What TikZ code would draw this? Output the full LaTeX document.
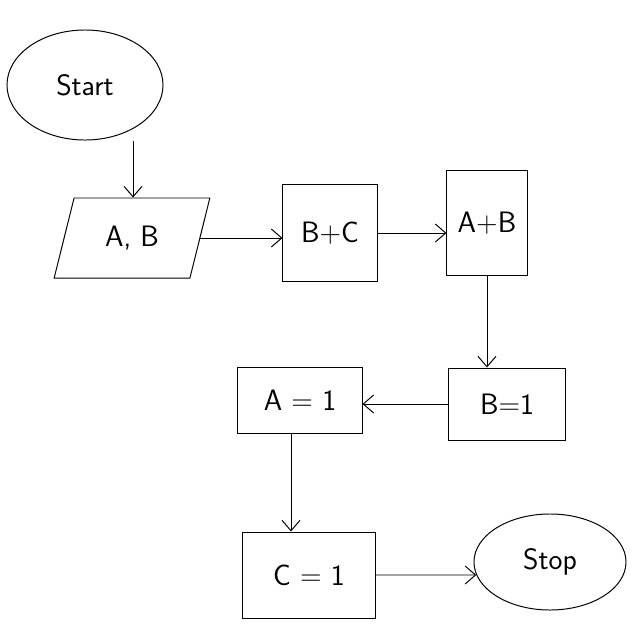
\documentclass[tikz,border=0pt]{standalone}
\usepackage{tikz}
\usetikzlibrary{arrows.meta,positioning,shapes.geometric}

\begin{document}
\begin{tikzpicture}[x=0.025cm, y=-0.025cm, font=\sffamily\fontsize{21}{25}\selectfont,
  term/.style={ellipse, draw=black, line width=0.7pt, inner sep=0pt},
  io/.style={trapezium, trapezium left angle=72, trapezium right angle=108, trapezium stretches=true, draw=black, line width=0.7pt, minimum width=3.9cm, minimum height=2cm},
  proc/.style={rectangle, draw=black, line width=0.7pt, inner sep=0pt},
  arr/.style={-{Straight Barb[length=2.6mm,width=4.5mm]}, line width=0.7pt, draw=black}]
\useasboundingbox (0,0) rectangle (640,640);
\node[term, minimum width=3.9cm, minimum height=2.75cm] (start) at (85,85) {Start};
\node[io] (ab) at (132,238) {A, B};
\node[proc, minimum width=2.35cm, minimum height=2.43cm] (bc) at (330,233) {B+C};
\node[proc, minimum width=2.0cm, minimum height=2.6cm] (apb) at (487,223) {A+B};
\node[proc, minimum width=2.9cm, minimum height=1.8cm] (b1) at (507,404) {B=1};
\node[proc, minimum width=3.1cm, minimum height=1.65cm] (a1) at (300,400) {A = 1};
\node[proc, minimum width=3.3cm, minimum height=2.15cm] (c1) at (309,575) {C = 1};
\node[term, minimum width=3.8cm, minimum height=2.4cm] (stop) at (550,562) {Stop};
\draw[arr] (start.south -| 133,0) -- (ab.north -| 133,0);
\draw[arr] (ab.east) -- (ab.east -| bc.west);
\draw[arr] (bc.east) -- (bc.east -| apb.west);
\draw[arr] (apb.south) -- (b1.north -| apb.south);
\draw[arr] (b1.west) -- (b1.west -| a1.east);
\draw[arr] (a1.south -| 291,0) -- (c1.north -| 291,0);
\draw[arr] (c1.east) -- (stop.190);
\end{tikzpicture}
\end{document}
